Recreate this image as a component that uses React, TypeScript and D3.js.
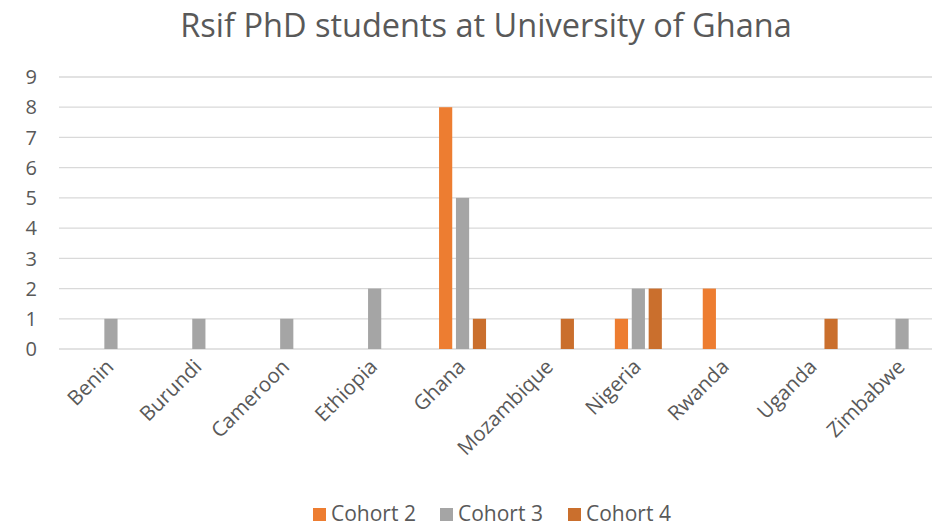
import { useEffect, useRef } from 'react'
import * as d3 from 'd3'

const countries = ['Benin', 'Burundi', 'Cameroon', 'Ethiopia', 'Ghana', 'Mozambique', 'Nigeria', 'Rwanda', 'Uganda', 'Zimbabwe']
const cohort2 = [0, 0, 0, 0, 8, 0, 1, 2, 0, 0]
const cohort3 = [1, 1, 1, 2, 5, 0, 2, 0, 0, 1]
const cohort4 = [0, 0, 0, 0, 1, 1, 2, 0, 1, 0]
const seriesNames = ['Cohort 2', 'Cohort 3', 'Cohort 4']
const yTicks = [0, 1, 2, 3, 4, 5, 6, 7, 8, 9]

const colors = ['#ED7D31', '#A5A5A5', '#CA6F2D']
const font = '"Open Sans", "Noto Sans", sans-serif'

export default function App() {
  const ref = useRef<SVGSVGElement>(null)

  useEffect(() => {
    const svg = d3.select(ref.current)
    svg.selectAll('*').remove()

    const width = 932
    const height = 526
    const gridLeft = 59

    const x = d3.scaleBand().domain(countries).range([67, 946])
    const x1 = d3.scaleBand().domain(seriesNames).range([-23.5, 23.5]).paddingInner(0.22)
    const y = d3.scaleLinear().domain([0, 9]).range([349, 77])

    svg.append('rect').attr('width', width).attr('height', height).attr('fill', '#fff')

    svg.append('text')
      .attr('x', 486)
      .attr('y', 37)
      .attr('text-anchor', 'middle')
      .attr('font-family', font)
      .attr('font-size', 32.5)
      .attr('fill', '#595959')
      .text('Rsif PhD students at University of Ghana')

    // gridlines
    svg.append('g')
      .selectAll('line')
      .data(yTicks)
      .enter().append('line')
      .attr('x1', gridLeft)
      .attr('x2', width)
      .attr('y1', d => y(d))
      .attr('y2', d => y(d))
      .attr('stroke', '#D9D9D9')
      .attr('stroke-width', 1.3)

    svg.append('g')
      .selectAll('text')
      .data(yTicks)
      .enter().append('text')
      .attr('x', 37)
      .attr('y', d => y(d))
      .attr('dy', '0.36em')
      .attr('text-anchor', 'end')
      .attr('font-family', font)
      .attr('font-size', 20)
      .attr('fill', '#595959')
      .text(d => d)

    const series = [cohort2, cohort3, cohort4]
    series.forEach((vals, si) => {
      svg.append('g')
        .selectAll('rect')
        .data(vals.map((v, i) => ({ v, c: countries[i] })).filter(d => d.v > 0))
        .enter().append('rect')
        .attr('x', d => (x(d.c) as number) + x.bandwidth() / 2 + (x1(seriesNames[si]) as number))
        .attr('width', x1.bandwidth())
        .attr('y', d => y(d.v))
        .attr('height', d => y(0) - y(d.v))
        .attr('fill', colors[si])
    })

    // category labels
    svg.append('g')
      .selectAll('text')
      .data(countries)
      .enter().append('text')
      .attr('transform', d => `translate(${(x(d) as number) + x.bandwidth() / 2 + 4},${368}) rotate(-45)`)
      .attr('text-anchor', 'end')
      .attr('font-family', font)
      .attr('font-size', 20.5)
      .attr('fill', '#595959')
      .text(d => d)

    // legend
    const legendX = [313, 440, 568]
    seriesNames.forEach((name, i) => {
      svg.append('rect')
        .attr('x', legendX[i])
        .attr('y', 508)
        .attr('width', 13)
        .attr('height', 13)
        .attr('fill', colors[i])
      svg.append('text')
        .attr('x', legendX[i] + 18)
        .attr('y', 521)
        .attr('font-family', font)
        .attr('font-size', 21)
        .attr('fill', '#595959')
        .text(name)
    })
  }, [])

  return (
    <svg
      ref={ref}
      width={932}
      height={526}
      style={{ position: 'fixed', left: 0, top: 0, display: 'block' }}
    />
  )
}
